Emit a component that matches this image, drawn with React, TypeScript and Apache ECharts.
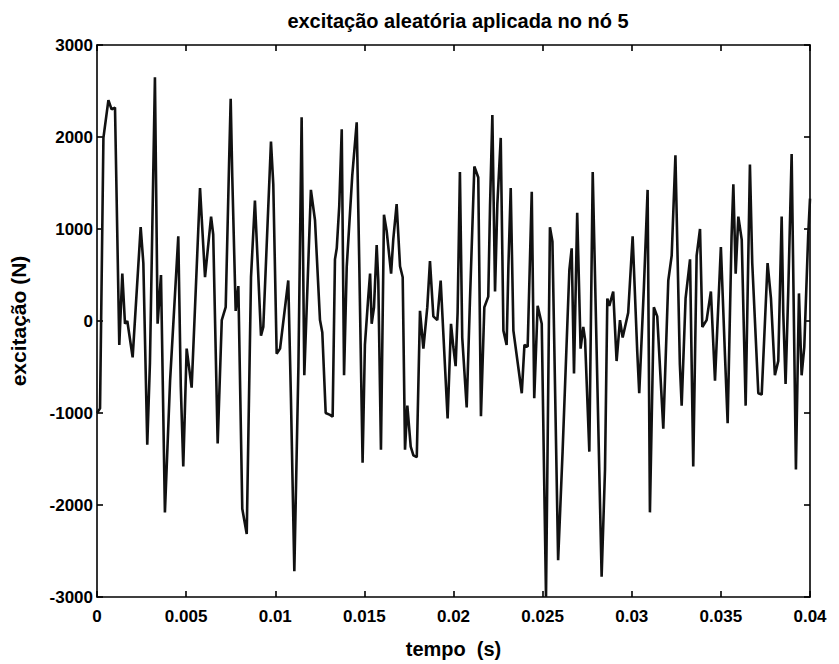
import React, { useEffect, useRef } from "react";
import * as echarts from "echarts";

const titleText = "excitação aleatória aplicada no nó 5";
const xAxisName = "tempo  (s)";
const yAxisName = "excitação (N)";

const xTicks = [0, 0.005, 0.01, 0.015, 0.02, 0.025, 0.03, 0.035, 0.04];
const yTicks = [-3000, -2000, -1000, 0, 1000, 2000, 3000];

// time (s)
const times = [
  0, 0.00017, 0.00036, 0.00064, 0.00082, 0.00101, 0.00125, 0.00142, 0.00157, 0.0017,
  0.002, 0.00245, 0.0026, 0.00282, 0.00297, 0.00325, 0.0034, 0.00359, 0.00381, 0.0041,
  0.00456, 0.0047, 0.00484, 0.00503, 0.00531, 0.00578, 0.00606, 0.0064, 0.00652, 0.00677,
  0.007, 0.00722, 0.00741, 0.0075, 0.00759, 0.00778, 0.00793, 0.00815, 0.0084, 0.00864,
  0.00886, 0.0092, 0.00933, 0.00976, 0.00989, 0.01008, 0.01027, 0.01073, 0.01088, 0.01107,
  0.0113, 0.01148, 0.01163, 0.012, 0.01223, 0.01251, 0.01264, 0.01283, 0.01307, 0.01322,
  0.01335, 0.01345, 0.01359, 0.01373, 0.01386, 0.01401, 0.01432, 0.01457, 0.01472, 0.0149,
  0.01503, 0.01522, 0.01532, 0.01541, 0.01554, 0.01569, 0.01578, 0.01593, 0.0161, 0.01625,
  0.0165, 0.01662, 0.01681, 0.017, 0.01715, 0.01728, 0.01741, 0.0176, 0.01775, 0.01794,
  0.01812, 0.01831, 0.01853, 0.01868, 0.01887, 0.01909, 0.01928, 0.01967, 0.01986, 0.01999,
  0.02012, 0.02023, 0.02036, 0.02049, 0.02074, 0.02092, 0.02117, 0.02139, 0.02154, 0.02173,
  0.02195, 0.02205, 0.02218, 0.02233, 0.02246, 0.02265, 0.0228, 0.02298, 0.02308, 0.02321,
  0.02336, 0.02383, 0.02398, 0.02416, 0.02439, 0.02453, 0.02472, 0.02495, 0.02519, 0.02541,
  0.02555, 0.02587, 0.02612, 0.0265, 0.02663, 0.02676, 0.02694, 0.02713, 0.02728, 0.02738,
  0.02762, 0.02781, 0.02831, 0.0285, 0.02863, 0.02874, 0.02896, 0.02915, 0.02934, 0.02949,
  0.0298, 0.03005, 0.03031, 0.03042, 0.03068, 0.03089, 0.03102, 0.03124, 0.03143, 0.03177,
  0.03205, 0.03224, 0.03245, 0.0327, 0.0328, 0.03302, 0.03327, 0.03345, 0.03364, 0.03383,
  0.03396, 0.0342, 0.03444, 0.03467, 0.035, 0.03523, 0.03538, 0.0356, 0.0357, 0.03583,
  0.03598, 0.03617, 0.03639, 0.03663, 0.03676, 0.0371, 0.03729, 0.03762, 0.03781, 0.03803,
  0.03822, 0.03841, 0.0385, 0.03863, 0.03878, 0.03897, 0.03921, 0.03938, 0.03953, 0.03968,
  0.0399, 0.04,
];

// excitation (N)
const values = [
  -1000, -950, 1990, 2400, 2300, 2320, -260, 515, -30, 0,
  -395, 1020, 630, -1345, -455, 2650, -30, 500, -2080, -650,
  920, -705, -1580, -300, -725, 1445, 477, 1135, 940, -1330,
  10, 150, 1720, 2415, 1560, 110, 380, -2040, -2315, 477,
  1310, -160, -65, 1950, 1485, -355, -300, 440, -840, -2720,
  -490, 2215, -590, 1425, 1095, 10, -125, -1000, -1020, -1040,
  670, 790, 1250, 2085, -590, 590, 1580, 2160, 555, -1540,
  -260, 265, 515, -30, 150, 825, 440, -1400, 1155, 980,
  515, 885, 1270, 595, 475, -1400, -920, -1365, -1460, -1480,
  110, -300, 150, 650, 50, 10, 440, -1060, -30, -280,
  -490, 90, 1620, -180, -940, 205, 1680, 1560, -1035, 150,
  265, 1250, 2240, 320, 1270, 1990, -105, -260, 595, 1445,
  -105, -785, -260, -280, 1405, -840, 165, -30, -3000, 1020,
  865, -2600, -1420, 555, 790, -570, 1175, -300, -65, -200,
  -1420, 1620, -2780, -1615, 245, 165, 320, -435, 10, -180,
  90, 920, -340, -785, 360, 1425, -2080, 150, 50, -1170,
  440, 710, 1800, -475, -920, 245, 670, -1580, 710, 1000,
  -65, 10, 320, -650, 805, -375, -1110, 920, 1485, 515,
  1135, 885, -920, 1700, 630, -785, -800, 630, 245, -590,
  -435, 1135, 90, -685, 320, 1815, -1615, 300, -590, -280,
  940, 1330,
];

const FONT = "'Liberation Sans', Arial, sans-serif";

export default function App() {
  const ref = useRef<HTMLDivElement>(null);

  useEffect(() => {
    if (!ref.current) return;
    const chart = echarts.init(ref.current, undefined, { renderer: "svg" });
    const data = times.map((t, i) => [t, values[i]]);
    const fmtX = (v: number) => String(+v.toFixed(3));
    const fmtY = (v: number) => String(Math.round(v));
    const axisLine = { show: true, onZero: false, lineStyle: { color: "#000", width: 1.6 } };
    const tickStyle = { show: true, inside: true, length: 6, lineStyle: { color: "#000", width: 1.6 } };
    const labelStyle = { fontFamily: FONT, fontSize: 17, fontWeight: "bold", color: "#000" };
    chart.setOption({
      animation: false,
      backgroundColor: "#fff",
      title: {
        text: titleText,
        left: 453,
        textAlign: "center",
        top: 6,
        textStyle: { fontFamily: FONT, fontSize: 20, fontWeight: "bold", color: "#000" },
      },
      grid: { left: 97, right: 29, top: 45, bottom: 66, containLabel: false },
      xAxis: [
        {
          type: "value",
          min: xTicks[0],
          max: xTicks[xTicks.length - 1],
          interval: 0.005,
          position: "bottom",
          name: xAxisName,
          nameLocation: "middle",
          nameGap: 42,
          nameTextStyle: { fontFamily: FONT, fontSize: 20, fontWeight: "bold", color: "#000" },
          axisLine,
          axisTick: tickStyle,
          splitLine: { show: false },
          axisLabel: { ...labelStyle, formatter: fmtX, margin: 11 },
        },
        {
          type: "value",
          min: xTicks[0],
          max: xTicks[xTicks.length - 1],
          interval: 0.005,
          position: "top",
          axisLine,
          axisTick: tickStyle,
          splitLine: { show: false },
          axisLabel: { show: false },
        },
      ],
      yAxis: [
        {
          type: "value",
          min: yTicks[0],
          max: yTicks[yTicks.length - 1],
          interval: 1000,
          position: "left",
          name: yAxisName,
          nameLocation: "middle",
          nameGap: 68,
          nameRotate: 90,
          nameTextStyle: { fontFamily: FONT, fontSize: 21, fontWeight: "bold", color: "#000" },
          axisLine,
          axisTick: tickStyle,
          splitLine: { show: false },
          axisLabel: { ...labelStyle, formatter: fmtY, margin: 4 },
        },
        {
          type: "value",
          min: yTicks[0],
          max: yTicks[yTicks.length - 1],
          interval: 1000,
          position: "right",
          axisLine,
          axisTick: tickStyle,
          splitLine: { show: false },
          axisLabel: { show: false },
        },
      ],
      series: [
        {
          type: "line",
          data,
          xAxisIndex: 0,
          yAxisIndex: 0,
          showSymbol: false,
          symbol: "none",
          lineStyle: { color: "#111", width: 2.6 },
          clip: true,
        },
      ],
    });
    return () => chart.dispose();
  }, []);

  return (
    <div
      ref={ref}
      style={{ position: "fixed", left: 0, top: 0, width: 839, height: 664, background: "#fff" }}
    />
  );
}
